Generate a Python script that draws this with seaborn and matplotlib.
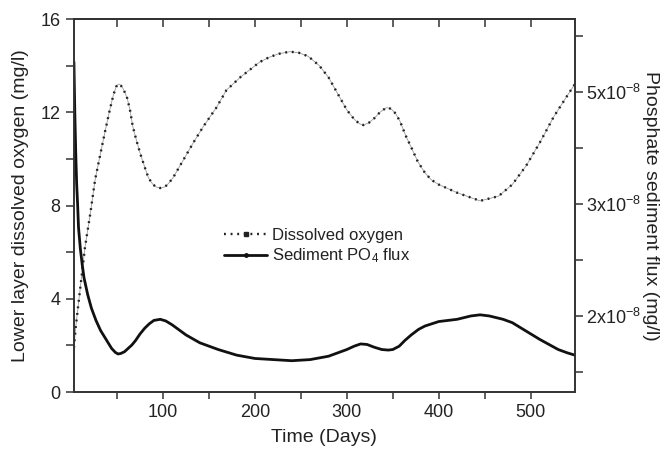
import numpy as np
import pandas as pd
import matplotlib
matplotlib.use("Agg")
import matplotlib.pyplot as plt
import seaborn as sns
from matplotlib.lines import Line2D
from matplotlib.ticker import FixedLocator, FixedFormatter, MultipleLocator

# ---- data ----
do_days = [3, 5, 10, 15, 21, 26, 32, 37, 42, 46, 49, 51, 53, 56, 59, 61, 64, 67, 71, 75, 80,
           84, 88, 92, 97, 102, 106, 111, 122, 133, 144, 158, 169, 184, 205, 215, 225, 238,
           248, 258, 270, 280, 290, 300, 308, 314, 318, 324, 330, 336, 343, 348, 353, 358,
           364, 370, 377, 385, 392, 400, 420, 445, 465, 480, 495, 510, 525, 538, 548]
do_vals = [1.9, 2.8, 4.5, 6.2, 7.7, 9.1, 10.25, 11.2, 12.1, 12.75, 13.1, 13.2, 13.2, 13.05,
           12.8, 12.6, 12.1, 11.4, 10.8, 10.25, 9.65, 9.2, 8.95, 8.8, 8.75, 8.8, 8.95, 9.2,
           9.95, 10.7, 11.4, 12.2, 12.95, 13.5, 14.15, 14.35, 14.5, 14.6, 14.55, 14.4, 14.0,
           13.5, 12.8, 12.1, 11.7, 11.5, 11.45, 11.55, 11.75, 12.0, 12.2, 12.15, 11.95, 11.6,
           11.0, 10.5, 9.9, 9.4, 9.1, 8.9, 8.55, 8.2, 8.4, 8.9, 9.7, 10.7, 11.8, 12.6, 13.2]

# sediment PO4 flux, in units of 1e-8 mg/l
flux_days = [3, 4, 5, 6, 7, 8, 10, 12, 14, 18, 22, 27, 32, 38, 44, 48, 51, 54, 58, 62, 66,
             70, 75, 80, 85, 90, 97, 103, 110, 125, 140, 160, 180, 200, 220, 240, 260, 280,
             290, 300, 308, 315, 322, 330, 338, 345, 350, 357, 363, 370, 378, 385, 400, 420,
             435, 445, 455, 470, 480, 490, 500, 510, 520, 530, 540, 548]
flux_vals = [5.54, 4.6, 3.9, 3.35, 3.0, 2.79, 2.6, 2.46, 2.34, 2.19, 2.07, 1.96, 1.87, 1.79,
             1.71, 1.675, 1.66, 1.665, 1.68, 1.71, 1.74, 1.78, 1.84, 1.89, 1.93, 1.96, 1.97,
             1.955, 1.92, 1.83, 1.76, 1.70, 1.65, 1.62, 1.61, 1.60, 1.61, 1.64, 1.67, 1.70,
             1.73, 1.75, 1.745, 1.72, 1.70, 1.695, 1.70, 1.73, 1.78, 1.83, 1.88, 1.91, 1.95,
             1.97, 2.0, 2.01, 2.0, 1.97, 1.94, 1.89, 1.84, 1.79, 1.745, 1.70, 1.67, 1.65]

left_ticks = [0, 4, 8, 12, 16]
x_ticks = [100, 200, 300, 400, 500]
right_ticks = [2, 3, 5]
right_minor = [1.5, 2.5, 4, 6]
right_labels = ["2x10$^{-8}$", "3x10$^{-8}$", "5x10$^{-8}$"]
series_labels = ["Dissolved oxygen", "Sediment PO$_4$ flux"]

# ---- style ----
sns.set_theme(style="ticks")
plt.rcParams['font.family'] = ['Liberation Sans', 'DejaVu Sans']
plt.rcParams['mathtext.fontset'] = 'custom'
plt.rcParams['mathtext.rm'] = 'Liberation Sans'
plt.rcParams['mathtext.it'] = 'Liberation Sans'
TXT = '#222222'
SP = '#333333'

fig = plt.figure(figsize=(6.66, 4.58), dpi=100)
ax = fig.add_axes([0.111, 0.144, 0.752, 0.8145])
ax2 = ax.twinx()

do_df = pd.DataFrame({"day": do_days, "do": do_vals})
fl_df = pd.DataFrame({"day": flux_days, "flux": flux_vals})

sns.lineplot(data=do_df, x="day", y="do", ax=ax, color='#9a9a9a', lw=0.6,
             estimator=None, sort=False, legend=False)
sns.lineplot(data=do_df, x="day", y="do", ax=ax, color='#222222', lw=1.7,
             linestyle=(0, (0.8, 2.0)), estimator=None, sort=False, legend=False)


# right axis: piecewise linear scale matching the reference tick spacing
def fwd(v):
    v = np.asarray(v, dtype=float)
    return np.where(v < 3, 0.504 + (v - 3) * 0.3, 0.504 + (v - 3) * 0.15)


def inv(p):
    p = np.asarray(p, dtype=float)
    return np.where(p < 0.504, 3 + (p - 0.504) / 0.3, 3 + (p - 0.504) / 0.15)


ax2.set_yscale('function', functions=(fwd, inv))
sns.lineplot(data=fl_df, x="day", y="flux", ax=ax2, color='#111111', lw=2.0,
             estimator=None, sort=False, legend=False)

ax.set_xlim(3, 548)
ax.set_ylim(0, 16)
ax2.set_ylim(float(inv(0.0)), float(inv(1.0)))
ax2.set_xlim(3, 548)

ax.set_xticks(x_ticks)
ax.xaxis.set_minor_locator(MultipleLocator(50))
ax.set_yticks(left_ticks)
ax.yaxis.set_minor_locator(MultipleLocator(2))
ax2.yaxis.set_major_locator(FixedLocator(right_ticks))
ax2.yaxis.set_major_formatter(FixedFormatter(right_labels))
ax2.yaxis.set_minor_locator(FixedLocator(right_minor))
ax2.yaxis.set_minor_formatter(FixedFormatter([""] * len(right_minor)))

for a in (ax, ax2):
    for s in a.spines.values():
        s.set_visible(True)
        s.set_color(SP)
        s.set_linewidth(1.2)

ax.tick_params(axis='x', which='both', direction='out', length=5, width=1.1, color=SP,
               labelsize=13, labelcolor=TXT, top=False)
ax.tick_params(axis='y', which='both', direction='out', length=6, width=1.1, color=SP,
               labelsize=13, labelcolor=TXT)
ax2.tick_params(axis='y', which='both', direction='out', length=6, width=1.1, color=SP,
                labelsize=13, labelcolor=TXT, pad=2)
# inward ticks on top spine
sec = ax.secondary_xaxis('top')
sec.set_xticks(x_ticks)
sec.xaxis.set_minor_locator(MultipleLocator(50))
sec.tick_params(axis='x', which='both', direction='in', length=6, width=1.1, color=SP,
                labeltop=False)
sec.spines['top'].set_color(SP)
sec.spines['top'].set_linewidth(1.2)

ax.set_xlabel("Time (Days)", fontsize=14, color=TXT, labelpad=6)
ax.set_ylabel("Lower layer dissolved oxygen (mg/l)", fontsize=14, color=TXT, labelpad=8)
ax2.set_ylabel("Phosphate sediment flux (mg/l)", fontsize=14, color=TXT, rotation=270)
ax2.yaxis.set_label_coords(1.152, 0.5)
ax2.yaxis.label.set_va('center')
ax2.yaxis.label.set_ha('center')

handles = [
    Line2D([], [], color='#222222', lw=1.7, linestyle=(0, (0.8, 2.0)), marker='s', ms=2.5),
    Line2D([], [], color='#111111', lw=2.0, marker='o', ms=2.5),
]
ax2.legend(handles, series_labels, loc='center left', bbox_to_anchor=(0.27, 0.39),
           frameon=False, fontsize=12, handlelength=2.6, handletextpad=0.3,
           labelspacing=0.2, labelcolor=TXT, numpoints=1)

fig.savefig("out.png", dpi=100)
